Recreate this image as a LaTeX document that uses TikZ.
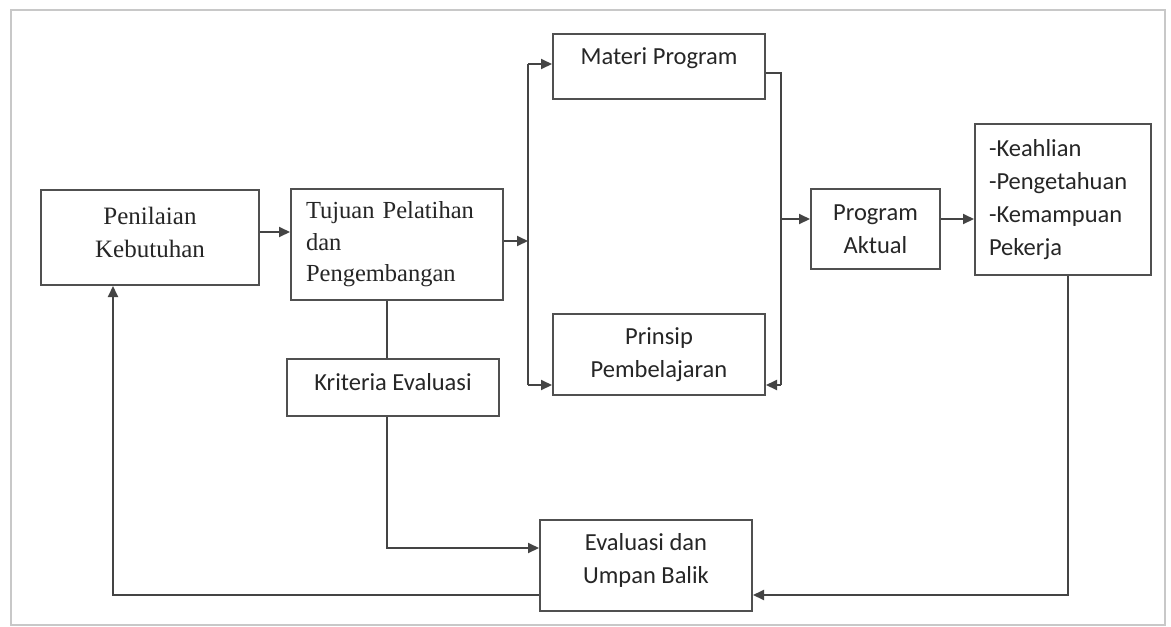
\documentclass[tikz,border=0pt]{standalone}
\usepackage{fontspec}
\setmainfont{Carlito}
\newfontfamily\seriffont{Liberation Serif}
\usetikzlibrary{arrows.meta}
\definecolor{linec}{HTML}{444444}
\definecolor{boxc}{HTML}{505050}
\definecolor{textc}{HTML}{262626}
\definecolor{framec}{HTML}{C8C8C8}
\tikzset{
  box/.style={draw=boxc, line width=2pt, inner sep=0pt, anchor=north west,
    text=textc, align=center, font=\fontsize{24.5}{32.5}\selectfont},
  serifbox/.style={box, font=\seriffont\fontsize{25}{33}\selectfont},
  ln/.style={draw=linec, line width=2pt},
  arr/.style={ln, -{Triangle[length=11pt,width=10pt]}},
}
\begin{document}
\begin{tikzpicture}[x=1pt,y=-1pt]
\useasboundingbox (0,0) rectangle (1171,627);
\fill[white] (0,0) rectangle (1171,627);
\draw[framec, line width=1.8pt] (11,10) rectangle (1165,625);

\node[serifbox, minimum width=218pt, minimum height=95pt, text depth=10pt] (pen) at (40,189) {Penilaian\\Kebutuhan};
\node[serifbox, minimum width=212pt, minimum height=111pt, text width=182pt, inner xsep=15pt, align=left, font=\seriffont\fontsize{24.5}{31.5}\selectfont] (tuj) at (290,188) {Tujuan Pelatihan\\dan\\Pengembangan};
\node[box, minimum width=212pt, minimum height=57pt, text depth=12pt] (krit) at (286,358) {Kriteria Evaluasi};
\node[box, minimum width=212pt, minimum height=65pt, text depth=20pt] (mat) at (552,33) {Materi Program};
\node[box, minimum width=212pt, minimum height=81pt] (prin) at (552,313) {Prinsip\\Pembelajaran};
\node[box, minimum width=129pt, minimum height=80pt] (pa) at (810,188) {Program\\Aktual};
\node[box, minimum width=172pt, minimum height=151pt, text width=148pt, inner xsep=14pt, align=left, font=\fontsize{24.5}{33}\selectfont] (kea) at (974,123) {-Keahlian\\-Pengetahuan\\-Kemampuan\\Pekerja};
\node[box, minimum width=212pt, minimum height=91pt, text depth=14pt] (eva) at (539,519) {Evaluasi dan\\Umpan Balik};

\coordinate (pk) at (0,232);
\draw[arr] (pen.east |- pk) -- (tuj.west |- pk);

\coordinate (bLtop) at (528,64);
\coordinate (bLmid) at (528,241);
\coordinate (bLbot) at (528,385);
\draw[ln] (bLtop) -- (bLbot);
\draw[arr] (tuj.east |- bLmid) -- (bLmid);
\draw[arr] (bLtop) -- (mat.west |- bLtop);
\draw[arr] (bLbot) -- (prin.west |- bLbot);

\coordinate (bRtop) at (781,73);
\coordinate (bRmid) at (781,219);
\coordinate (bRbot) at (781,385);
\draw[ln] (mat.east |- bRtop) -- (bRtop) -- (bRbot);
\draw[arr] (bRbot) -- (prin.east |- bRbot);
\draw[arr] (bRmid) -- (pa.west |- bRmid);
\draw[arr] (pa.east |- bRmid) -- (kea.west |- bRmid);

\coordinate (fbR) at (1068,595);
\draw[arr] (kea.south -| fbR) -- (fbR) -- (eva.east |- fbR);
\coordinate (fbL) at (113,595);
\draw[arr] (eva.west |- fbL) -- (fbL) -- (pen.south -| fbL);

\coordinate (kx) at (387,548);
\draw[ln] (tuj.south -| kx) -- (krit.north -| kx);
\draw[arr] (krit.south -| kx) -- (kx) -- (eva.west |- kx);
\end{tikzpicture}
\end{document}
